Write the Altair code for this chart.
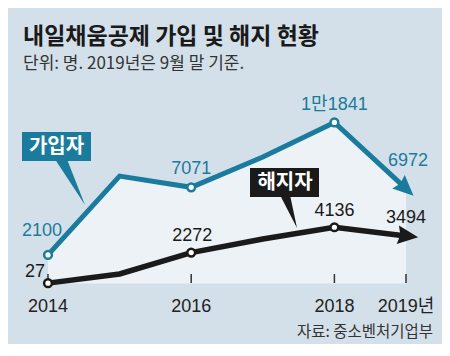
import math
import altair as alt
import pandas as pd

# ---- data ----
years = [2014, 2015, 2016, 2017, 2018, 2019]
joined = [2100, 7900, 7071, 9300, 11841, 6972]
cancelled = [27, 700, 2272, 3270, 4136, 3494]
joined_labels = ["2100", "", "7071", "", "1만1841", "6972"]
cancelled_labels = ["27", "", "2272", "", "4136", "3494"]
marker_years = [2014, 2016, 2018]
tick_years = [2014, 2016, 2018, 2019]
tick_labels = ["2014", "2016", "2018", "2019년"]

TITLE = "내일채움공제 가입 및 해지 현황"
SUBTITLE = "단위: 명. 2019년은 9월 말 기준."
SOURCE = "자료: 중소벤처기업부"

# ---- style ----
BG = "#d4e0e9"
FILL = "#ecf2f6"
BLUE = "#1a7b9d"
BLACK = "#1a1a1a"
FONT = "Liberation Sans, Noto Sans CJK KR"
KFONT = "Noto Sans CJK KR"

X_RANGE = [40, 398]
Y_DOMAIN = [0, 12000]
Y_RANGE = [275.5, 112.3]
xs = alt.Scale(domain=[2014, 2019], range=X_RANGE, nice=False, zero=False)
ys = alt.Scale(domain=Y_DOMAIN, range=Y_RANGE, nice=False, zero=True)

px_per_year = (X_RANGE[1] - X_RANGE[0]) / 5
px_per_unit = (Y_RANGE[0] - Y_RANGE[1]) / (Y_DOMAIN[1] - Y_DOMAIN[0])


def seg_angle(vals):
    dy = (vals[-2] - vals[-1]) * px_per_unit
    dx = (years[-1] - years[-2]) * px_per_year
    return math.degrees(math.atan2(dy, dx))


df = pd.DataFrame({"year": years, "joined": joined, "cancelled": cancelled,
                   "jl": joined_labels, "cl": cancelled_labels})
ticks = pd.DataFrame({"year": tick_years, "label": tick_labels})

base = alt.Chart(df)
X = alt.X("year:Q", scale=xs, axis=None)
YJ = alt.Y("joined:Q", scale=ys, axis=None)
YC = alt.Y("cancelled:Q", scale=ys, axis=None)

area = base.mark_area(color=FILL, opacity=1, fillOpacity=1).encode(x=X, y=YJ)

line_j = base.mark_line(color=BLUE, strokeWidth=5, strokeJoin="miter").encode(x=X, y=YJ)
line_c = base.mark_line(color=BLACK, strokeWidth=5.5, strokeJoin="miter").encode(x=X, y=YC)

marked = base.transform_filter(alt.FieldOneOfPredicate(field="year", oneOf=marker_years))
dots_j = marked.mark_point(shape="circle", filled=True, fill="white", stroke=BLUE,
                           strokeWidth=2.5, size=60, opacity=1).encode(x=X, y=YJ)
dots_c = marked.mark_point(shape="circle", filled=True, fill="white", stroke=BLACK,
                           strokeWidth=2.5, size=60, opacity=1).encode(x=X, y=YC)

ARROW = "M-1,-0.9L1,0L-1,0.9L-0.75,0Z"
last = base.transform_filter(alt.datum.year == years[-1])
arrow_j = last.mark_point(shape=ARROW, filled=True, color=BLUE, size=420, opacity=1,
                          angle=seg_angle(joined)).encode(x=X, y=YJ)
arrow_c = last.mark_point(shape=ARROW, filled=True, color=BLACK, size=420, opacity=1,
                          angle=seg_angle(cancelled) % 360, xOffset=2).encode(x=X, y=YC)

# value labels (offsets are style)
j_off = {2014: (-6, -19, "center"), 2016: (0, -13, "center"), 2018: (0, -12.5, "center"),
         2019: (2, -22.5, "center")}
c_off = {2014: (-3, -6, "right"), 2016: (1, -11.5, "center"), 2018: (0, -11, "center"),
         2019: (0, -13, "center")}
labels = []
for yr, (dx, dy, al) in j_off.items():
    labels.append(base.transform_filter(alt.datum.year == yr).mark_text(
        font=FONT, fontSize=18, color=BLUE, dx=dx, dy=dy, align=al, baseline="alphabetic"
    ).encode(x=X, y=YJ, text="jl:N"))
for yr, (dx, dy, al) in c_off.items():
    labels.append(base.transform_filter(alt.datum.year == yr).mark_text(
        font=FONT, fontSize=18, color=BLACK, dx=dx, dy=dy, align=al, baseline="alphabetic"
    ).encode(x=X, y=YC, text="cl:N"))

# x ticks and labels
tk = alt.Chart(ticks)
tick_rules = tk.mark_rule(color="#333333", strokeWidth=1.5).encode(
    x=alt.X("year:Q", scale=xs, axis=None), y=alt.value(266), y2=alt.value(275))
tick_text = tk.mark_text(font=FONT, fontSize=18, color="#222222", baseline="alphabetic").encode(
    x=alt.X("year:Q", scale=xs, axis=None), y=alt.value(304), text="label:N")

# annotations
one = alt.Chart(pd.DataFrame({"k": [0]}))
box_j = one.mark_rect(color=BLUE).encode(x=alt.value(14), x2=alt.value(83),
                                          y=alt.value(124), y2=alt.value(153))
ptr_j = one.mark_point(shape="M-0.6,-0.95L-0.12,-0.95L0.6,0.88Z", filled=True, color=BLUE,
                       size=2500, opacity=1).encode(x=alt.value(62), y=alt.value(175))
txt_j = one.mark_text(text="가입자", font=KFONT, fontWeight="bold", fontSize=20, color="white",
                      baseline="middle").encode(x=alt.value(48.5), y=alt.value(138.5))
box_c = one.mark_rect(color=BLACK).encode(x=alt.value(242), x2=alt.value(311),
                                           y=alt.value(160), y2=alt.value(189))
ptr_c = one.mark_point(shape="M-0.4,-0.9L0.1,-0.9L0.45,0.75Z", filled=True, color=BLACK,
                       size=1600, opacity=1).encode(x=alt.value(280), y=alt.value(205))
txt_c = one.mark_text(text="해지자", font=KFONT, fontWeight="bold", fontSize=20, color="white",
                      baseline="middle").encode(x=alt.value(277), y=alt.value(174.5))

title = one.mark_text(text=TITLE, font=KFONT, fontWeight="bold", fontSize=23, color="#1a1a1a",
                      align="left", baseline="alphabetic").encode(x=alt.value(15), y=alt.value(36))
subtitle = one.mark_text(text=SUBTITLE, font=KFONT, fontSize=17, color="#333333",
                         align="left", baseline="alphabetic").encode(x=alt.value(15), y=alt.value(61))
source = one.mark_text(text=SOURCE, font=KFONT, fontSize=15.5, color="#333333",
                       align="right", baseline="alphabetic").encode(x=alt.value(425), y=alt.value(329))

chart = alt.layer(
    area, tick_rules, line_j, line_c, dots_j, dots_c, arrow_j, arrow_c,
    ptr_j, box_j, txt_j, ptr_c, box_c, txt_c,
    *labels, tick_text, title, subtitle, source
).properties(
    width=434, height=336, padding=0, background=BG,
    autosize=alt.AutoSizeParams(type="none")
).configure_view(strokeWidth=0)

chart.save("out.html", embed_options={"renderer": "svg", "actions": False})
